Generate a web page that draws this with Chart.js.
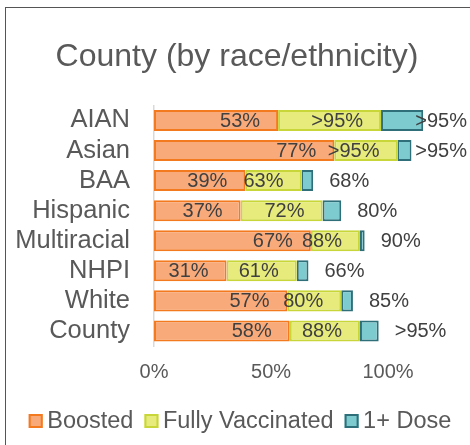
<!DOCTYPE html>
<html>
<head>
<meta charset="utf-8">
<script src="https://cdn.jsdelivr.net/npm/chart.js@4"></script>
<style>
  html, body { margin: 0; padding: 0; background: #fff; overflow: hidden; }
  #wrap { position: relative; width: 470px; height: 445px; overflow: hidden; }
  #frame { position: absolute; left: 5px; top: 7px; right: -10px; bottom: -10px;
           border-top: 1.5px solid #555; border-left: 1.5px solid #555; pointer-events: none; }
</style>
</head>
<body>
<div id="wrap">
  <canvas id="chart" width="470" height="445"></canvas>
  <div id="frame"></div>
</div>
<script>
const groups = ['AIAN', 'Asian', 'BAA', 'Hispanic', 'Multiracial', 'NHPI', 'White', 'County'];
const boosted = [53, 77, 39, 37, 67, 31, 57, 58];
const fullyVaccinated = [97, 104, 63, 72, 88, 61, 80, 88];
const oneDose = [115, 110, 68, 80, 90, 66, 85, 96];
const xTicks = [0, 50, 100];

const FONT = '"Liberation Sans", Arial, sans-serif';
Chart.defaults.font.family = FONT;
Chart.defaults.color = '#595959';

// bars are stacked, so each segment is the gap to the previous total
const fullyPart = fullyVaccinated.map((v, i) => v - boosted[i]);
const dosePart = oneDose.map((v, i) => v - fullyVaccinated[i]);
const totals = [boosted, fullyVaccinated, oneDose];

const fmt = v => v > 95 ? '>95%' : v + '%';

const barLabels = {
  id: 'barLabels',
  afterDatasetsDraw(chart) {
    const ctx = chart.ctx;
    ctx.save();
    ctx.font = '20px ' + FONT;
    ctx.fillStyle = '#404040';
    ctx.textBaseline = 'middle';
    ctx.textAlign = 'left';
    chart.data.datasets.forEach((ds, di) => {
      chart.getDatasetMeta(di).data.forEach((bar, i) => {
        const text = fmt(totals[di][i]);
        const w = ctx.measureText(text).width;
        let x;
        if (di < 2) x = bar.x - 18 - w;
        else x = Math.min(bar.x + 16, chart.width - 3 - w);
        ctx.fillText(text, x, bar.y + 1);
      });
    });
    ctx.restore();
  }
};

const legendRow = {
  id: 'legendRow',
  afterDraw(chart) {
    const ctx = chart.ctx;
    ctx.save();
    ctx.font = '23.5px ' + FONT;
    ctx.textBaseline = 'middle';
    ctx.textAlign = 'left';
    const box = 14, gapText = 4.5, gapItem = 11;
    const items = chart.data.datasets.map(ds => ({
      text: ds.label, w: ctx.measureText(ds.label).width,
      bg: ds.backgroundColor, bd: ds.borderColor
    }));
    const total = items.reduce((s, it) => s + box + gapText + it.w, 0) + gapItem * (items.length - 1);
    let x = (chart.width - total) / 2 + 5;
    const y = chart.chartArea.bottom + 75;
    items.forEach(it => {
      ctx.fillStyle = it.bg;
      ctx.fillRect(x, y - 7, box, box);
      ctx.strokeStyle = it.bd;
      ctx.lineWidth = 2;
      ctx.strokeRect(x + 1, y - 6, box - 2, box - 2);
      ctx.fillStyle = '#595959';
      ctx.fillText(it.text, x + box + gapText, y + 1);
      x += box + gapText + it.w + gapItem;
    });
    ctx.restore();
  }
};

new Chart(document.getElementById('chart'), {
  type: 'bar',
  data: {
    labels: groups,
    datasets: [
      { label: 'Boosted', data: boosted, backgroundColor: '#F9AA7B', borderColor: '#F47A1F' },
      { label: 'Fully Vaccinated', data: fullyPart, backgroundColor: '#E6EB7C', borderColor: '#C9D63A' },
      { label: '1+ Dose', data: dosePart, backgroundColor: '#7DCACF', borderColor: '#2F6F79' }
    ]
  },
  options: {
    indexAxis: 'y',
    responsive: false,
    animation: false,
    datasets: {
      bar: { borderWidth: 2, borderSkipped: false, barPercentage: 0.7, categoryPercentage: 1.0 }
    },
    layout: { padding: { left: 8, right: 4, top: 0, bottom: 47 } },
    plugins: {
      legend: { display: false },
      tooltip: { enabled: false },
      title: {
        display: true,
        text: 'County (by race/ethnicity)',
        color: '#595959',
        font: { size: 32, weight: 'normal' },
        padding: { top: 38, bottom: 29 }
      }
    },
    scales: {
      x: {
        stacked: true,
        min: 0,
        max: 133.3,
        grid: { display: false, drawTicks: false },
        border: { display: false },
        afterBuildTicks: s => { s.ticks = xTicks.map(v => ({ value: v })); },
        ticks: {
          padding: 14,
          maxRotation: 0,
          minRotation: 0,
          autoSkip: false,
          color: '#595959',
          font: { size: 20 },
          callback: v => v + '%'
        }
      },
      y: {
        stacked: true,
        grid: { display: false, drawTicks: false },
        border: { display: true, color: '#D9D9D9', width: 1.5 },
        ticks: { padding: 24, color: '#595959', font: { size: 25.5 }, autoSkip: false },
        afterFit: s => { s.width = 146; }
      }
    }
  },
  plugins: [barLabels, legendRow]
});
</script>
</body>
</html>
